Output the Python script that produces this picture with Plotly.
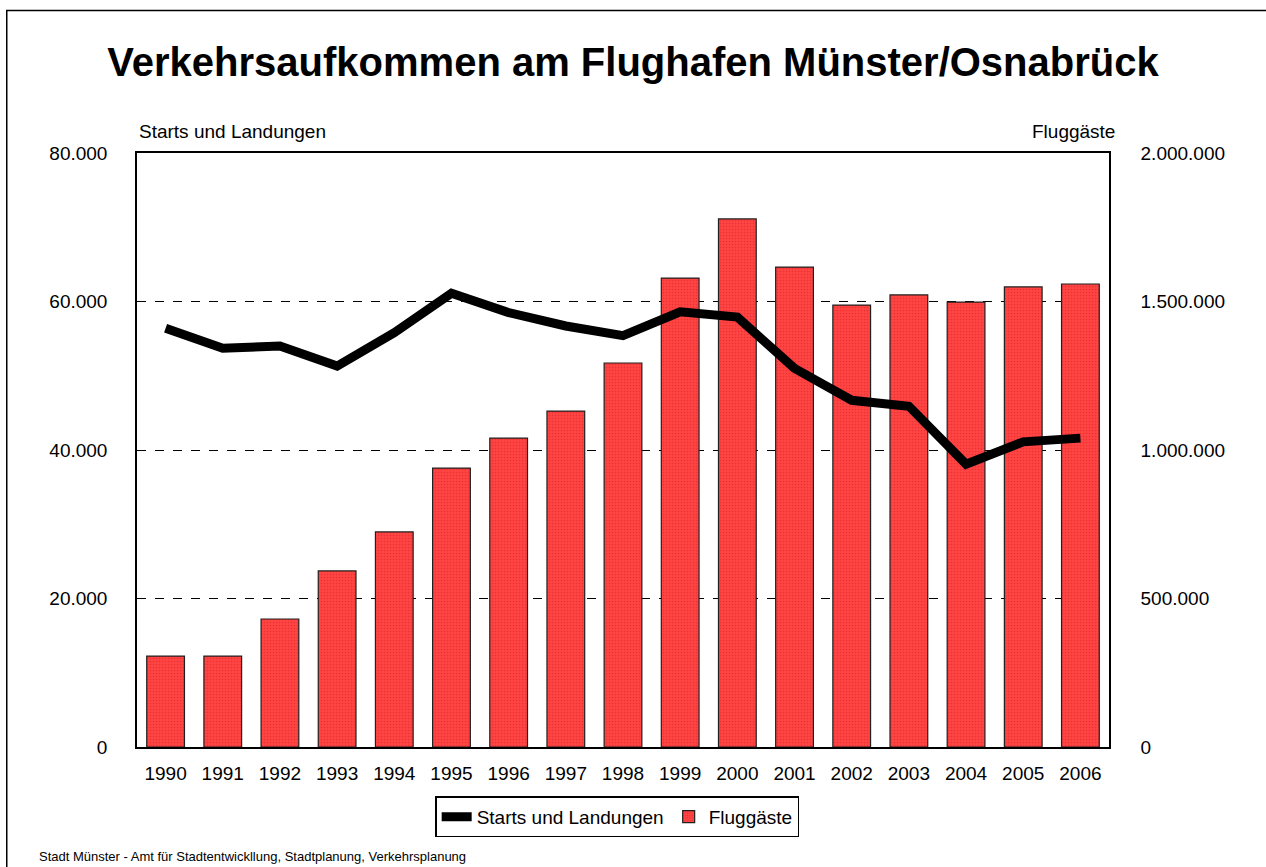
import plotly.graph_objects as go

jahre = [str(j) for j in range(1990, 2007)]
starts_landungen = [56400, 53700, 54000, 51300, 55800, 61100, 58500, 56700, 55400,
                    58600, 57900, 51000, 46700, 45900, 38100, 41100, 41600]
fluggaeste = [306000, 306000, 431000, 593000, 724000, 939000, 1040000, 1131000, 1293000,
              1579000, 1778000, 1616000, 1488000, 1522000, 1498000, 1549000, 1559000]

FONT = "Liberation Sans, Arial, sans-serif"

fig = go.Figure()

# Linie zuerst (Legendenreihenfolge), liegt auf y2 und damit über den Balken
fig.add_trace(go.Scatter(
    x=jahre, y=starts_landungen, name="Starts und Landungen", yaxis="y2",
    mode="lines", line=dict(color="black", width=9),
))

fig.add_trace(go.Bar(
    x=jahre, y=fluggaeste, name="Fluggäste", yaxis="y",
    width=0.66,
    marker=dict(color="#FF3B3B", line=dict(color="#202020", width=1.2),
                pattern=dict(shape=".", fgcolor="#D82020", bgcolor="#FF4444",
                             size=3, solidity=0.25)),
))

fig.update_layout(
    width=1266, height=867,
    paper_bgcolor="white", plot_bgcolor="white",
    margin=dict(l=137, r=157, t=153, b=120),
    font=dict(family=FONT, size=19, color="black"),
    separators=",.",
    showlegend=True,
    legend=dict(orientation="h", x=0.494, xanchor="center", y=-0.083, yanchor="top",
                bordercolor="black", borderwidth=1.5, font=dict(size=19),
                itemwidth=30, tracegroupgap=0),
    xaxis=dict(showline=True, linecolor="black", linewidth=1.5, mirror=True,
               ticks="", tickfont=dict(size=19), showgrid=False,
               ticklabelstandoff=8),
    yaxis=dict(side="right", range=[0, 2000000], dtick=500000, tickformat=",d",
               showgrid=True, gridcolor="black", griddash="dash", gridwidth=1,
               showline=True, linecolor="black", linewidth=1.5,
               ticks="", zeroline=False, tickfont=dict(size=19),
               ticklabelstandoff=26),
    yaxis2=dict(side="left", overlaying="y", range=[0, 80000], dtick=20000,
                tickformat=",d", showgrid=False, showline=True, linecolor="black",
                linewidth=1.5, ticks="", zeroline=False, tickfont=dict(size=19),
                ticklabelstandoff=24),
    bargap=0.34,
    title=dict(text="<b>Verkehrsaufkommen am Flughafen Münster/Osnabrück</b>",
               x=0.5, xanchor="center", y=0.928, yanchor="middle",
               font=dict(size=40, family=FONT)),
)

fig.add_annotation(text="Starts und Landungen", xref="paper", yref="paper",
                   x=0.0, y=1.015, xanchor="left", yanchor="bottom",
                   showarrow=False, font=dict(size=19))
fig.add_annotation(text="Fluggäste", xref="paper", yref="paper",
                   x=1.008, y=1.015, xanchor="right", yanchor="bottom",
                   showarrow=False, font=dict(size=19))
fig.add_annotation(text="Stadt Münster - Amt für Stadtentwickllung, Stadtplanung, Verkehrsplanung",
                   xref="paper", yref="paper", x=-0.103, y=-0.185,
                   xanchor="left", yanchor="middle", showarrow=False,
                   font=dict(size=13))

# äußerer Rahmen
fig.add_shape(type="rect", xref="paper", yref="paper",
              x0=-0.134, x1=1.17, y0=-0.25, y1=1.24,
              line=dict(color="black", width=1.5))

fig.write_html("out.html", config={"displayModeBar": False},
               post_script="document.body.style.margin='0';")
